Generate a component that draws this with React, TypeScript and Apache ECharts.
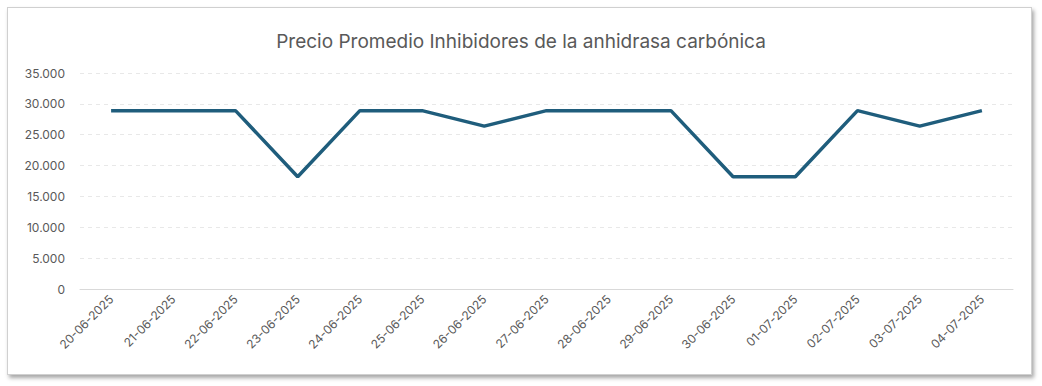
import React, { useEffect, useRef } from "react";
import * as echarts from "echarts";

const categories = [
  "20-06-2025", "21-06-2025", "22-06-2025", "23-06-2025", "24-06-2025",
  "25-06-2025", "26-06-2025", "27-06-2025", "28-06-2025", "29-06-2025",
  "30-06-2025", "01-07-2025", "02-07-2025", "03-07-2025", "04-07-2025",
];
const prices = [
  28900, 28900, 28900, 18200, 28900,
  28900, 26400, 28900, 28900, 28900,
  18200, 18200, 28900, 26400, 28900,
];
const title = "Precio Promedio Inhibidores de la anhidrasa carbónica";

const fmt = (v: number) => {
  const s = Math.round(v).toString();
  return s.replace(/\B(?=(\d{3})+(?!\d))/g, ".");
};

export default function App() {
  const ref = useRef<HTMLDivElement>(null);
  useEffect(() => {
    if (!ref.current) return;
    const chart = echarts.init(ref.current, undefined, { renderer: "svg" });
    chart.setOption({
      animation: false,
      title: {
        text: title,
        left: "center",
        top: 27,
        textStyle: {
          fontFamily: "Inter, 'Noto Sans', sans-serif",
          fontSize: 19,
          fontWeight: "normal",
          color: "#595959",
        },
      },
      grid: { left: 80, right: 29, top: 73, bottom: 97 },
      xAxis: {
        type: "category",
        data: categories,
        boundaryGap: true,
        axisLine: { show: true, lineStyle: { color: "#d9d9d9", width: 1 } },
        axisTick: { show: false },
        axisLabel: {
          rotate: 45,
          color: "#595959",
          fontSize: 12,
          fontFamily: "Inter, 'Noto Sans', sans-serif",
          margin: 8,
          interval: 0,
        },
      },
      yAxis: {
        type: "value",
        min: 0,
        max: 35000,
        interval: 5000,
        axisLine: { show: false },
        axisTick: { show: false },
        splitLine: { lineStyle: { color: "#e8e8e8", type: [4, 4], width: 1 } },
        axisLabel: {
          color: "#595959",
          fontSize: 12,
          fontFamily: "Inter, 'Noto Sans', sans-serif",
          margin: 15,
          formatter: (v: number) => fmt(v),
        },
      },
      series: [
        {
          type: "line",
          data: prices,
          symbol: "none",
          lineStyle: { color: "#1f5d7c", width: 3.5 },
          itemStyle: { color: "#1f5d7c" },
        },
      ],
    });
    return () => chart.dispose();
  }, []);
  return (
    <div style={{ position: "fixed", left: 0, top: 0, width: 1042, height: 386, background: "#ffffff" }}>
      <div
        style={{
          position: "absolute",
          left: 7,
          top: 7,
          width: 1023,
          height: 366,
          border: "1px solid #d0d0d0",
          boxShadow: "2px 3px 4px rgba(0,0,0,0.35)",
          background: "#fff",
        }}
      />
      <div ref={ref} style={{ position: "absolute", left: 0, top: 0, width: 1042, height: 386 }} />
    </div>
  );
}
